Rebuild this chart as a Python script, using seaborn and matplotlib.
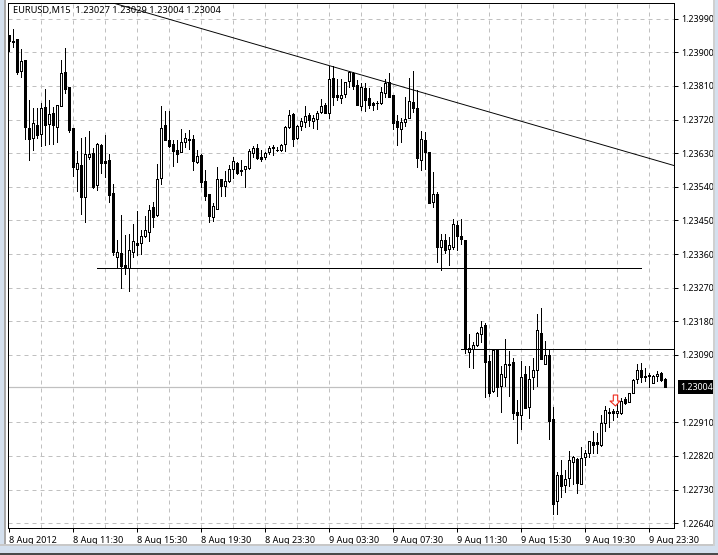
import numpy as np
import pandas as pd
import seaborn as sns
import matplotlib
matplotlib.use("Agg")
import matplotlib.pyplot as plt
from matplotlib.patches import Rectangle
from matplotlib.path import Path

sns.set_theme(style="whitegrid")
plt.rcParams['font.family'] = ['Noto Sans', 'DejaVu Sans']

# EURUSD M15 candles, prices in points (1e-5)
opens = [123945, 123930, 123935, 123849, 123879, 123697, 123670, 123705, 123682, 123753,
         123709, 123737, 123699, 123756, 123846, 123806, 123697, 123589, 123598, 123514,
         123621, 123630, 123546, 123652, 123608, 123611, 123523, 123351, 123362, 123330,
         123322, 123366, 123391, 123391, 123409, 123420, 123485, 123464, 123563, 123705,
         123665, 123654, 123639, 123634, 123661, 123668, 123667, 123607, 123624, 123556,
         123520, 123460, 123480, 123560, 123541, 123556, 123589, 123605, 123585, 123587,
         123591, 123631, 123644, 123619, 123621, 123634, 123646, 123639, 123638, 123654,
         123699, 123734, 123670, 123704, 123714, 123732, 123717, 123721, 123739, 123758,
         123737, 123830, 123785, 123779, 123788, 123824, 123844, 123813, 123757, 123805,
         123778, 123765, 123765, 123765, 123790, 123820, 123786, 123716, 123694, 123714,
         123724, 123767, 123751, 123613, 123665, 123633, 123499, 123521, 123378, 123397,
         123374, 123380, 123438, 123408, 123398, 123099, 123106, 123116, 123145, 123169,
         123073, 122993, 123105, 123008, 123032, 123067, 123070, 122937, 122930, 123038,
         122951, 123030, 123049, 123150, 123067, 123089, 122918, 122700, 122768, 122743,
         122760, 122804, 122811, 122746, 122816, 122828, 122858, 122856, 122849, 122909,
         122938, 122939, 122934, 122935, 122972, 122965, 122989, 123025, 123050, 123034,
         123037, 123016, 123034, 123043, 123027]
highs = [123946, 123962, 123936, 123908, 123879, 123772, 123750, 123752, 123765, 123802,
         123772, 123753, 123760, 123879, 123911, 123806, 123697, 123636, 123670, 123674,
         123690, 123643, 123656, 123655, 123679, 123628, 123548, 123398, 123465, 123411,
         123415, 123440, 123475, 123424, 123462, 123491, 123500, 123601, 123756, 123743,
         123743, 123664, 123664, 123694, 123685, 123691, 123679, 123639, 123628, 123585,
         123521, 123496, 123592, 123560, 123583, 123598, 123621, 123606, 123612, 123596,
         123640, 123649, 123655, 123639, 123634, 123649, 123652, 123647, 123654, 123703,
         123746, 123737, 123706, 123725, 123756, 123737, 123732, 123744, 123774, 123765,
         123863, 123863, 123828, 123828, 123821, 123851, 123848, 123826, 123819, 123817,
         123805, 123768, 123771, 123806, 123828, 123844, 123786, 123732, 123723, 123781,
         123831, 123850, 123799, 123689, 123687, 123633, 123580, 123526, 123415, 123414,
         123407, 123454, 123449, 123454, 123398, 123146, 123125, 123152, 123181, 123175,
         123090, 123105, 123105, 123060, 123133, 123101, 123081, 122969, 123074, 123060,
         123060, 123081, 123200, 123217, 123127, 123103, 122950, 122777, 122809, 122782,
         122833, 122819, 122813, 122843, 122837, 122860, 122886, 122882, 122929, 122954,
         122947, 122945, 122960, 122976, 122978, 122989, 123025, 123066, 123069, 123054,
         123041, 123036, 123047, 123045, 123029]
lows = [123904, 123913, 123842, 123835, 123669, 123612, 123639, 123670, 123649, 123652,
        123655, 123655, 123661, 123755, 123792, 123688, 123570, 123530, 123467, 123447,
        123614, 123536, 123531, 123578, 123567, 123500, 123357, 123322, 123270, 123307,
        123262, 123353, 123357, 123360, 123405, 123395, 123433, 123462, 123548, 123665,
        123647, 123597, 123607, 123633, 123647, 123642, 123585, 123603, 123539, 123505,
        123447, 123449, 123480, 123516, 123516, 123554, 123563, 123574, 123572, 123540,
        123589, 123619, 123614, 123610, 123614, 123628, 123625, 123637, 123637, 123637,
        123697, 123649, 123667, 123692, 123699, 123703, 123697, 123696, 123737, 123737,
        123723, 123759, 123772, 123763, 123781, 123806, 123802, 123759, 123746, 123744,
        123752, 123746, 123749, 123762, 123781, 123781, 123695, 123652, 123660, 123703,
        123723, 123741, 123592, 123585, 123589, 123498, 123487, 123339, 123317, 123362,
        123331, 123373, 123371, 123387, 123096, 123059, 123054, 123114, 123125, 122978,
        122980, 122991, 122980, 122937, 123008, 122980, 122920, 122855, 122892, 122947,
        122922, 122999, 123008, 123080, 123066, 122866, 122664, 122664, 122711, 122724,
        122740, 122746, 122721, 122745, 122796, 122816, 122828, 122828, 122847, 122886,
        122896, 122916, 122923, 122932, 122960, 122965, 122987, 123014, 123018, 123021,
        123005, 123016, 123021, 123021, 123004]
closes = [123931, 123928, 123846, 123876, 123699, 123667, 123710, 123680, 123750, 123706,
          123734, 123705, 123758, 123844, 123803, 123693, 123594, 123603, 123512, 123628,
          123628, 123539, 123655, 123605, 123605, 123519, 123366, 123365, 123328, 123322,
          123370, 123396, 123385, 123409, 123424, 123478, 123460, 123560, 123697, 123665,
          123650, 123637, 123629, 123659, 123670, 123664, 123610, 123622, 123554, 123516,
          123463, 123489, 123560, 123543, 123555, 123587, 123608, 123577, 123582, 123595,
          123635, 123643, 123618, 123615, 123630, 123643, 123643, 123638, 123651, 123701,
          123731, 123667, 123702, 123715, 123730, 123718, 123723, 123737, 123755, 123738,
          123828, 123780, 123781, 123785, 123820, 123846, 123811, 123759, 123808, 123772,
          123760, 123760, 123763, 123794, 123819, 123781, 123712, 123700, 123714, 123722,
          123770, 123752, 123618, 123667, 123634, 123498, 123521, 123379, 123399, 123371,
          123384, 123440, 123408, 123401, 123105, 123108, 123118, 123148, 123166, 123070,
          122989, 123103, 123005, 123038, 123067, 123064, 122934, 122930, 123030, 122949,
          123027, 123049, 123156, 123080, 123089, 122914, 122692, 122770, 122739, 122757,
          122808, 122816, 122748, 122813, 122827, 122859, 122849, 122852, 122907, 122944,
          122935, 122935, 122939, 122968, 122962, 122987, 123023, 123051, 123032, 123030,
          123034, 123034, 123039, 123024, 123004]

price_ticks = [122640, 122730, 122820, 122910, 123090, 123180, 123270, 123360, 123450,
               123540, 123630, 123720, 123810, 123900, 123990]
time_ticks = [0, 16, 32, 48, 64, 80, 96, 112, 128, 144, 160]
time_labels = ['8 Aug 2012', '8 Aug 11:30', '8 Aug 15:30', '8 Aug 19:30', '8 Aug 23:30',
               '9 Aug 03:30', '9 Aug 07:30', '9 Aug 11:30', '9 Aug 15:30', '9 Aug 19:30',
               '9 Aug 23:30']
last_price = 123004

# drawn objects on the chart: (bar, points)
trend_line = ([26, 166.25], [124032, 123597])
support_line = ([22, 158], [123322, 123322])
resist_line = ([113, 166.25], [123105, 123105])
arrow_bar, arrow_price = 151.4, 122970

W, H = 718, 555

df = pd.DataFrame({'bar': np.arange(len(opens)),
                   'open': np.array(opens) / 1e5, 'high': np.array(highs) / 1e5,
                   'low': np.array(lows) / 1e5, 'close': np.array(closes) / 1e5})
wicks = df.melt(id_vars='bar', value_vars=['high', 'low'], value_name='price')

fig = plt.figure(figsize=(W / 100, H / 100), dpi=100, facecolor='white')
ax = fig.add_axes([8 / W, 27 / H, 666 / W, 525.4 / H])
ax.set_xlim(-0.25, 166.25)
ax.set_ylim(1.22627, 1.24033)
ax.set_axisbelow(True)

# window frame around the chart
def frame(x, y, w, h, color):
    fig.add_artist(Rectangle((x / W, 1 - (y + h) / H), w / W, h / H, color=color, lw=0,
                             transform=fig.transFigure))

frame(0, 0, 4, H, '#d4e0ee')
frame(4, 0, 2, H, '#a9a9a9')
frame(0, 544, W, 2, '#c8c8c8')
frame(0, 546, W, 7, '#d4e0ee')
frame(0, 553, W, 2, '#4a4a4a')
frame(713, 0, 2, 546, '#d0d0d0')
frame(715, 0, 3, 546, '#d4e0ee')

# grid
ax.set_xticks(time_ticks)
ax.set_xticks(np.arange(8, 166, 16), minor=True)
ax.set_yticks(np.array(price_ticks) / 1e5)
ax.grid(True, which='both', color='#c0c0c0', ls=(0, (4, 4)), lw=0.72)
ax.xaxis.get_gridlines()[0].set_visible(False)
ax.axhline(last_price / 1e5, color='#c0c0c0', lw=0.9, zorder=1)

# wicks
sns.lineplot(data=wicks, x='bar', y='price', units='bar', estimator=None, color='black',
             lw=0.72, ax=ax, legend=False, antialiased=False, zorder=3)

# bodies
up = df['close'] >= df['open']
ax.bar(df['bar'], (df['close'] - df['open']).abs(), bottom=df[['open', 'close']].min(axis=1),
       width=0.5, color=np.where(up, 'white', 'black'), edgecolor='black', linewidth=0.72,
       antialiased=False, zorder=4)

# trend and level lines
ax.plot(trend_line[0], np.array(trend_line[1]) / 1e5, color='black', lw=0.68, zorder=5)
for xs, ys in [support_line, resist_line]:
    ax.plot(xs, np.array(ys) / 1e5, color='black', lw=0.72, antialiased=False, zorder=5)

# sell arrow
arrow = Path([(-0.4, 1), (0.4, 1), (0.4, -0.1), (0.8, -0.1), (0, -1), (-1, -0.1), (-0.4, -0.1), (-0.4, 1)],
             closed=True)
ax.scatter([arrow_bar], [arrow_price / 1e5], marker=arrow, s=62, facecolor='white',
           edgecolor='#ee2a1c', linewidth=0.8, zorder=6)

ax.set_xlabel('')
ax.set_ylabel('')
ax.set_xticklabels(time_labels, ha='left', fontsize=6.5, color='black')
ax.set_yticklabels(['%.5f' % (p / 1e5) for p in price_ticks], fontsize=6.4, color='black')
ax.yaxis.tick_right()
ax.tick_params(axis='both', which='major', length=2.6, width=0.72, color='black', pad=2.5, right=True, bottom=True)
ax.tick_params(axis='x', which='major', pad=3)
ax.tick_params(axis='x', which='minor', length=0)
for side in ax.spines.values():
    side.set_color('black')
    side.set_linewidth(0.72)
    side.set_visible(True)

# last price box
ax.annotate('%.5f' % (last_price / 1e5), xy=(1, last_price / 1e5), xycoords=('axes fraction', 'data'),
            xytext=(4.5, 0), textcoords='offset points', ha='left', va='center', fontsize=6.4,
            color='white', bbox=dict(boxstyle='square,pad=0.3', fc='black', ec='black', lw=0))

ax.text(0.0075, 0.9845, 'EURUSD,M15  1.23027 1.23029 1.23004 1.23004', transform=ax.transAxes,
        ha='left', va='center', fontsize=6.65, color='black', zorder=7)

fig.savefig('out.png', dpi=100, facecolor='white')
